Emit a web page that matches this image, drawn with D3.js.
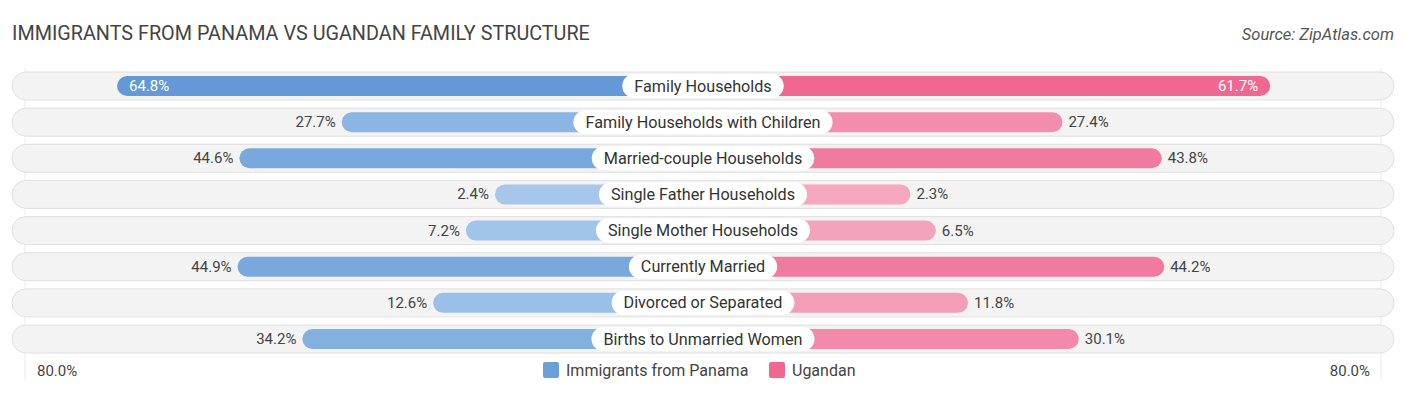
<!DOCTYPE html>
<html><head><meta charset="utf-8">
<script src="https://cdn.jsdelivr.net/npm/d3@7"></script>
<style>body{margin:0;background:#fff;font-family:Roboto,"Open Sans",sans-serif;}</style>
</head><body><svg id="c" width="1406" height="395"></svg>
<script>
const categories = ["Family Households","Family Households with Children","Married-couple Households","Single Father Households","Single Mother Households","Currently Married","Divorced or Separated","Births to Unmarried Women"];
const panama = [64.8,27.7,44.6,2.4,7.2,44.9,12.6,34.2];
const ugandan = [61.7,27.4,43.8,2.3,6.5,44.2,11.8,30.1];
const seriesNames = ["Immigrants from Panama","Ugandan"];
const axisMax = 80;
const axisLabels = ["80.0%","80.0%"];

const svg = d3.select("#c");
const cx = 703;
const off = d3.scaleLinear().domain([0, axisMax]).range([193.5, 678]);
const y = d3.scalePoint().domain(categories).range([86, 339]);
const blueC = d3.scaleLinear().domain([0, 65]).range(["#a9c9eb", "#6399d6"]);
const pinkC = d3.scaleLinear().domain([0, 62]).range(["#f5aac2", "#f06892"]);

svg.append("text").attr("x", 12).attr("y", 40).text("IMMIGRANTS FROM PANAMA VS UGANDAN FAMILY STRUCTURE")
  .attr("font-size", 19.8).attr("fill", "#444");
svg.append("text").attr("x", 1394).attr("y", 40).attr("text-anchor", "end").text("Source: ZipAtlas.com")
  .attr("font-size", 16.5).attr("font-style", "italic").attr("fill", "#555");

[cx - off(axisMax), cx + off(axisMax)].forEach(x => {
  svg.append("line").attr("x1", x).attr("x2", x).attr("y1", 68).attr("y2", 380).attr("stroke", "#ebebeb").attr("stroke-width", 1);
});

const g = svg.append("g");
categories.forEach((c, i) => {
  const yc = y(c);
  g.append("rect").attr("x", 12).attr("y", yc - 14).attr("width", 1382).attr("height", 28).attr("rx", 14)
    .attr("fill", "#f3f3f3").attr("stroke", "#e0e0e0").attr("stroke-width", 1);
  const pv = panama[i], uv = ugandan[i];
  const xl = cx - off(pv), xr = cx + off(uv);
  g.append("rect").attr("x", xl).attr("y", yc - 10).attr("width", cx - xl).attr("height", 20).attr("rx", 10).attr("fill", blueC(pv));
  g.append("rect").attr("x", cx).attr("y", yc - 10).attr("width", xr - cx).attr("height", 20).attr("rx", 10).attr("fill", pinkC(uv));
  const inL = pv > 55, inR = uv > 55;
  g.append("text").attr("x", inL ? xl + 12 : xl - 6).attr("y", yc + 5)
    .attr("text-anchor", inL ? "start" : "end").attr("font-size", 15)
    .attr("fill", inL ? "#fff" : "#444").text(pv.toFixed(1) + "%");
  g.append("text").attr("x", inR ? xr - 12 : xr + 6).attr("y", yc + 5)
    .attr("text-anchor", inR ? "end" : "start").attr("font-size", 15)
    .attr("fill", inR ? "#fff" : "#444").text(uv.toFixed(1) + "%");
  const t = g.append("text").attr("x", cx).attr("y", yc + 5.5).attr("text-anchor", "middle")
    .attr("font-size", 16.2).attr("fill", "#333").text(c);
  const bb = t.node().getBBox();
  g.insert("rect", () => t.node()).attr("x", bb.x - 12).attr("y", yc - 12).attr("width", bb.width + 24).attr("height", 24)
    .attr("rx", 12).attr("fill", "#fff");
});

svg.append("text").attr("x", 37).attr("y", 376).attr("font-size", 15).attr("fill", "#444").text(axisLabels[0]);
svg.append("text").attr("x", 1370).attr("y", 376).attr("text-anchor", "end").attr("font-size", 15).attr("fill", "#444").text(axisLabels[1]);

const leg = [{n: seriesNames[0], c: "#6a9fd8", x: 543}, {n: seriesNames[1], c: "#f06892", x: 769}];
leg.forEach(l => {
  svg.append("rect").attr("x", l.x).attr("y", 362).attr("width", 16).attr("height", 16).attr("rx", 2).attr("fill", l.c);
  svg.append("text").attr("x", l.x + 23).attr("y", 376).attr("font-size", 16).attr("fill", "#444").text(l.n);
});
</script></body></html>
